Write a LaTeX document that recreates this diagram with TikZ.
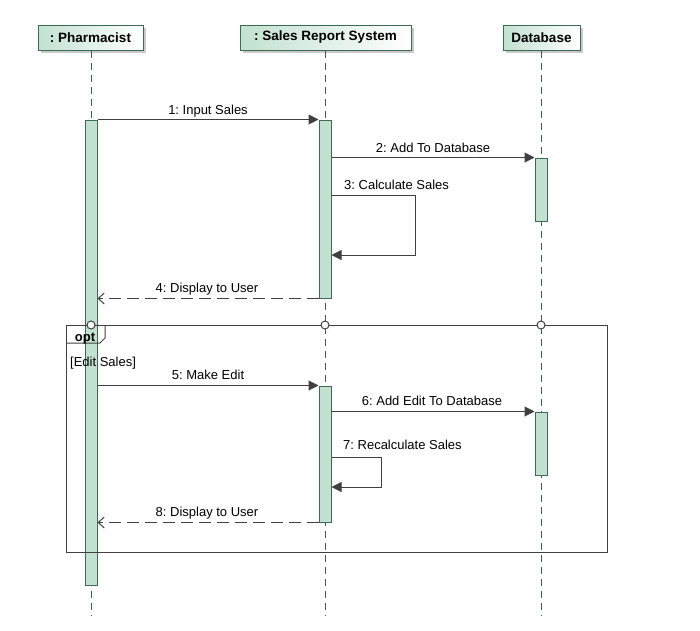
\documentclass[tikz,border=0pt]{standalone}
\usepackage{fontspec}
\setmainfont{Liberation Sans}
\usetikzlibrary{arrows.meta,shadows}
\definecolor{actf}{HTML}{C3E1D1}
\definecolor{actb}{HTML}{3E6A53}
\definecolor{hdrA}{HTML}{C2E1D0}
\definecolor{lifec}{HTML}{3E5C4C}
\definecolor{linec}{HTML}{404040}
\tikzset{
  head/.style={draw=actb, line width=1pt, left color=hdrA, right color=white,
    drop shadow={shadow xshift=3pt, shadow yshift=-3pt, fill=black!35, opacity=0.6},
    font=\bfseries\fontsize{13.5}{15}\selectfont, minimum height=25pt, inner sep=0pt},
  act/.style={draw=actb, fill=actf, line width=1pt, minimum width=12pt, inner sep=0pt},
  life/.style={draw=lifec, line width=1pt, dash pattern=on 7pt off 5pt},
  msg/.style={draw=linec, line width=1pt, -{Triangle[length=10pt,width=10pt]}},
  ret/.style={draw=linec, line width=1pt, dash pattern=on 12pt off 6pt,
    -{Straight Barb[length=6pt,width=11pt,line width=1pt]}},
  lbl/.style={font=\fontsize{13}{15}\selectfont, text=black, inner sep=0pt, anchor=base},
  frame/.style={draw=linec, line width=1pt},
  gate/.style={circle, draw=linec, fill=white, line width=1pt, minimum size=8pt, inner sep=0pt},
}
\begin{document}
\frenchspacing
\begin{tikzpicture}[x=1pt,y=-1pt]
\useasboundingbox (0,0) rectangle (700,630);
% headers
\node[head, minimum width=105pt] (ph) at (90.5,37.5) {: Pharmacist};
\node[head, minimum width=171pt] (srs) at (325.5,37.5) {: Sales Report System};
\node[head, minimum width=77pt] (db) at (541.5,37.5) {Database};
% lifeline ends
\coordinate (phend) at (91,616);
\coordinate (srsend) at (325,616);
\coordinate (dbend) at (541,616);
\draw[life] (phend |- ph.south) -- (phend);
\draw[life] (srsend |- srs.south) -- (srsend);
\draw[life] (dbend |- db.south) -- (dbend);
% activations
\node[act, minimum height=465pt] (pa) at (91,352.5) {};
\node[act, minimum height=178pt] (sa1) at (325,209) {};
\node[act, minimum height=63pt] (da1) at (541,189.5) {};
\node[act, minimum height=136pt] (sa2) at (325,454) {};
\node[act, minimum height=63pt] (da2) at (541,443.5) {};
% opt frame
\coordinate (fnw) at (66,325);
\coordinate (fse) at (607,552);
\draw[frame] (fnw) rectangle (fse);
\draw[frame] (66,343) -- (100,343) -- (105,338) -- (105,325);
\node[font=\bfseries\fontsize{13}{15}\selectfont, inner sep=0pt, anchor=base] (optl) at (85,341) {opt};
\node[font=\fontsize{13}{15}\selectfont, inner sep=0pt, anchor=base west] (guard) at (70,366.5) {[Edit Sales]};
% gates
\node[gate] (g1) at (91,325) {};
\node[gate] (g2) at (325,325) {};
\node[gate] (g3) at (541,325) {};
% message 1
\draw[msg] (pa.east |- sa1.north west) -- (sa1.north west);
\node[lbl] (l1) at (208,114) {1: Input Sales};
% message 2
\draw[msg] (sa1.east |- da1.north west) -- (da1.north west);
\node[lbl] (l2) at (433,152) {2: Add To Database};
% message 3
\coordinate (c3a) at (415,195);
\coordinate (c3b) at (415,255);
\draw[msg] (sa1.east |- c3a) -- (c3a) -- (c3b) -- (sa1.east |- c3b);
\node[lbl, anchor=base west] (l3) at (344,189) {3: Calculate Sales};
% message 4
\draw[ret] (sa1.south west) -- (pa.east |- sa1.south west);
\node[lbl] (l4) at (207,292.5) {4: Display to User};
% message 5
\draw[msg] (pa.east |- sa2.north west) -- (sa2.north west);
\node[lbl] (l5) at (208,379.5) {5: Make Edit};
% message 6
\draw[msg] (sa2.east |- da2.north west) -- (da2.north west);
\node[lbl] (l6) at (432,405.5) {6: Add Edit To Database};
% message 7
\coordinate (c7a) at (381,457);
\coordinate (c7b) at (381,487);
\draw[msg] (sa2.east |- c7a) -- (c7a) -- (c7b) -- (sa2.east |- c7b);
\node[lbl, anchor=base west] (l7) at (343,449.5) {7: Recalculate Sales};
% message 8
\draw[ret] (sa2.south west) -- (pa.east |- sa2.south west);
\node[lbl] (l8) at (207,516) {8: Display to User};
\end{tikzpicture}
\end{document}
